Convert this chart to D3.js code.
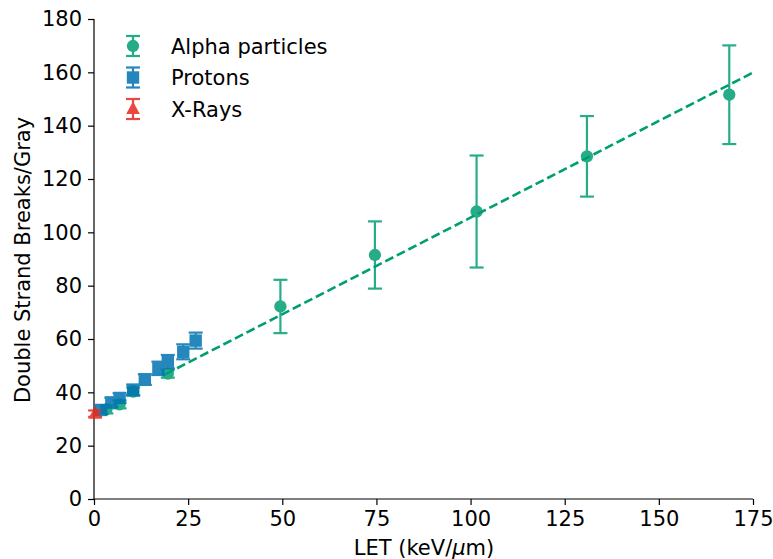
<!DOCTYPE html>
<html>
<head>
<meta charset="utf-8">
<script src="https://cdn.jsdelivr.net/npm/d3@7"></script>
<style>
  body { margin: 0; background: #fff; }
  text { font-family: "DejaVu Sans", sans-serif; }
</style>
</head>
<body>
<svg id="chart" width="773" height="559"></svg>
<script>
// alpha particles
const alphaLET = [3.3, 6.8, 10.4, 19.6, 49.5, 74.6, 101.6, 130.9, 168.7];
const alphaDSB = [33.6, 35.5, 40.3, 47.0, 72.2, 91.5, 107.8, 128.5, 151.6];
const alphaErr = [1.5, 1.5, 1.5, 1.5, 10.0, 12.6, 21.0, 15.1, 18.5];

// protons
const protonLET = [1.9, 4.6, 6.8, 10.4, 13.5, 17.1, 19.6, 23.7, 27.0];
const protonDSB = [33.4, 36.2, 37.9, 40.9, 44.8, 49.0, 51.5, 55.2, 59.4];
const protonErr = [1.5, 1.8, 1.8, 2.0, 2.0, 2.5, 2.5, 2.8, 3.0];

// x-rays
const xrayLET = [0.3];
const xrayDSB = [32.0];
const xrayErr = [1.2];

// linear fit (dashed)
const fitLET = [19, 175];
const fitDSB = [46.8, 159.9];

const xTicks = [0, 25, 50, 75, 100, 125, 150, 175];
const yTicks = [0, 20, 40, 60, 80, 100, 120, 140, 160, 180];

const green = "#009E73", blue = "#0072B2", red = "#E8261E";
const fs = 21;

const svg = d3.select("#chart");
const x = d3.scaleLinear().domain([0, 175]).range([94, 753]);
const y = d3.scaleLinear().domain([0, 180]).range([499, 19]);

// axes
const xAxis = svg.append("g").attr("transform", "translate(0,499)")
    .call(d3.axisBottom(x).tickValues(xTicks).tickSize(6).tickPadding(6));
const yAxis = svg.append("g").attr("transform", "translate(94,0)")
    .call(d3.axisLeft(y).tickValues(yTicks).tickSize(6).tickPadding(6));
[xAxis, yAxis].forEach(a => {
    a.selectAll("text").attr("font-size", fs).attr("font-family", "DejaVu Sans").attr("fill", "#000");
    a.selectAll("line, path").attr("stroke", "#000").attr("stroke-width", 1.2);
});
xAxis.select(".domain").attr("d", "M94,0H753");
yAxis.select(".domain").attr("d", "M0,499V19");

svg.append("text").attr("x", 424).attr("y", 555).attr("text-anchor", "middle")
    .attr("font-size", fs)
    .call(t => {
        t.append("tspan").text("LET (keV/");
        t.append("tspan").attr("font-style", "italic").text("μ");
        t.append("tspan").text("m)");
    });
svg.append("text").attr("transform", "translate(30,260) rotate(-90)")
    .attr("text-anchor", "middle").attr("font-size", fs)
    .text("Double Strand Breaks/Gray");

// fit line
svg.append("line")
    .attr("x1", x(fitLET[0])).attr("y1", y(fitDSB[0]))
    .attr("x2", x(fitLET[1])).attr("y2", y(fitDSB[1]))
    .attr("stroke", green).attr("stroke-width", 2.6).attr("stroke-dasharray", "9,4");

const drawSeries = (xs, ys, es, color, shape) => {
    const g = svg.append("g").attr("opacity", 0.85);
    xs.forEach((lx, i) => {
        const cx = x(lx), cy = y(ys[i]);
        const top = y(ys[i] + es[i]), bot = y(ys[i] - es[i]);
        g.append("line").attr("x1", cx).attr("x2", cx).attr("y1", top).attr("y2", bot)
            .attr("stroke", color).attr("stroke-width", 2.2);
        [top, bot].forEach(v => g.append("line").attr("x1", cx - 7).attr("x2", cx + 7)
            .attr("y1", v).attr("y2", v).attr("stroke", color).attr("stroke-width", 2.2));
        g.append("path").attr("transform", `translate(${cx},${cy})`)
            .attr("d", shape).attr("fill", color);
    });
};

const circle = d3.symbol(d3.symbolCircle, 120)();
const square = "M-6.2,-6.2H6.2V6.2H-6.2Z";
const triangle = "M0,-7.5L6.8,5L-6.8,5Z";

drawSeries(alphaLET, alphaDSB, alphaErr, green, circle);
drawSeries(protonLET, protonDSB, protonErr, blue, square);
drawSeries(xrayLET, xrayDSB, xrayErr, red, triangle);

// legend
const legend = [["Alpha particles", green, circle], ["Protons", blue, square], ["X-Rays", red, triangle]];
legend.forEach(([name, color, shape], i) => {
    const ly = 46 + i * 31.5, lx = 133;
    const g = svg.append("g").attr("opacity", 0.85);
    g.append("line").attr("x1", lx).attr("x2", lx).attr("y1", ly - 10).attr("y2", ly + 10)
        .attr("stroke", color).attr("stroke-width", 2.2);
    [ly - 10, ly + 10].forEach(v => g.append("line").attr("x1", lx - 7).attr("x2", lx + 7)
        .attr("y1", v).attr("y2", v).attr("stroke", color).attr("stroke-width", 2.2));
    g.append("path").attr("transform", `translate(${lx},${ly})`).attr("d", shape).attr("fill", color);
    svg.append("text").attr("x", 171).attr("y", ly + 7.5).attr("font-size", fs).text(name);
});
</script>
</body>
</html>
